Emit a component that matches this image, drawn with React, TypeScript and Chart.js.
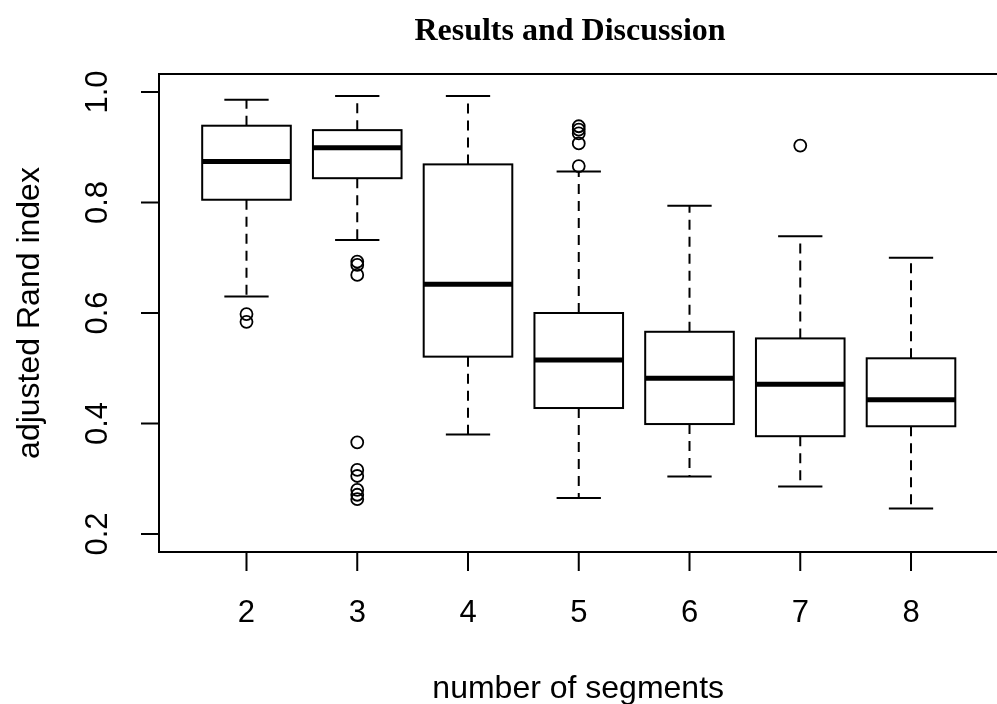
import { useEffect, useRef } from "react";
import { Chart, registerables } from "chart.js";

Chart.register(...registerables);

// ---- data ----
const categories = [2, 3, 4, 5, 6, 7, 8];
const lowerWhisker = [0.630, 0.732, 0.380, 0.265, 0.304, 0.286, 0.246];
const q1 = [0.805, 0.844, 0.521, 0.428, 0.399, 0.377, 0.395];
const medians = [0.874, 0.899, 0.652, 0.515, 0.482, 0.471, 0.443];
const q3 = [0.939, 0.931, 0.869, 0.600, 0.566, 0.554, 0.518];
const upperWhisker = [0.986, 0.993, 0.993, 0.856, 0.794, 0.739, 0.700];
const outliers2 = [0.598, 0.584];
const outliers3 = [0.693, 0.687, 0.669, 0.366, 0.316, 0.305, 0.280, 0.271, 0.263];
const outliers4: number[] = [];
const outliers5 = [0.938, 0.932, 0.925, 0.907, 0.866];
const outliers6: number[] = [];
const outliers7 = [0.903];
const outliers8: number[] = [];
const outliers = [outliers2, outliers3, outliers4, outliers5, outliers6, outliers7, outliers8];
const yTicks = [0.2, 0.4, 0.6, 0.8, 1.0];
const yTickLabels = ["0.2", "0.4", "0.6", "0.8", "1.0"];
const xTickLabels = ["2", "3", "4", "5", "6", "7", "8"];

const titleText = "Results and Discussion";
const xTitle = "number of segments";
const yTitle = "adjusted Rand index";

const SANS = '"Liberation Sans", Arial, sans-serif';
const SERIF = '"Liberation Serif", "Times New Roman", serif';

const boxPlugin = {
  id: "boxPlugin",
  beforeDatasetsDraw(chart: any) {
    const ctx = chart.ctx as CanvasRenderingContext2D;
    const xs = chart.scales.x;
    const ys = chart.scales.y;
    ctx.save();
    ctx.strokeStyle = "#000";
    ctx.lineCap = "butt";
    categories.forEach((c, i) => {
      const xc = xs.getPixelForValue(c);
      const hw = xs.getPixelForValue(c + 0.4) - xc;
      const cw = xs.getPixelForValue(c + 0.2) - xc;
      const yLo = ys.getPixelForValue(lowerWhisker[i]);
      const yQ1 = ys.getPixelForValue(q1[i]);
      const yMed = ys.getPixelForValue(medians[i]);
      const yQ3 = ys.getPixelForValue(q3[i]);
      const yHi = ys.getPixelForValue(upperWhisker[i]);
      // whiskers (dashed)
      ctx.lineWidth = 2;
      ctx.setLineDash([10, 7]);
      ctx.beginPath();
      ctx.moveTo(xc, yQ3);
      ctx.lineTo(xc, yHi);
      ctx.moveTo(xc, yQ1);
      ctx.lineTo(xc, yLo);
      ctx.stroke();
      ctx.setLineDash([]);
      // caps
      ctx.beginPath();
      ctx.moveTo(xc - cw, yHi);
      ctx.lineTo(xc + cw, yHi);
      ctx.moveTo(xc - cw, yLo);
      ctx.lineTo(xc + cw, yLo);
      ctx.stroke();
      // box
      ctx.fillStyle = "#fff";
      ctx.fillRect(xc - hw, yQ3, 2 * hw, yQ1 - yQ3);
      ctx.strokeRect(xc - hw, yQ3, 2 * hw, yQ1 - yQ3);
      // median
      ctx.lineWidth = 5;
      ctx.beginPath();
      ctx.moveTo(xc - hw, yMed);
      ctx.lineTo(xc + hw, yMed);
      ctx.stroke();
    });
    ctx.restore();
  },
  afterDraw(chart: any) {
    const ctx = chart.ctx as CanvasRenderingContext2D;
    const xs = chart.scales.x;
    const ys = chart.scales.y;
    const a = chart.chartArea;
    ctx.save();
    ctx.strokeStyle = "#000";
    ctx.fillStyle = "#000";
    ctx.lineWidth = 2;
    // frame (right side lies beyond the canvas)
    ctx.beginPath();
    ctx.moveTo(chart.width + 2, a.top);
    ctx.lineTo(a.left, a.top);
    ctx.lineTo(a.left, a.bottom);
    ctx.lineTo(chart.width + 2, a.bottom);
    ctx.stroke();
    // y ticks
    ctx.beginPath();
    yTicks.forEach((t) => {
      const y = ys.getPixelForValue(t);
      ctx.moveTo(a.left, y);
      ctx.lineTo(a.left - 18, y);
    });
    // x ticks
    categories.forEach((c) => {
      const x = xs.getPixelForValue(c);
      ctx.moveTo(x, a.bottom);
      ctx.lineTo(x, a.bottom + 19);
    });
    ctx.stroke();
    // tick labels
    ctx.font = `31px ${SANS}`;
    ctx.textAlign = "center";
    ctx.textBaseline = "middle";
    categories.forEach((c, i) => {
      ctx.fillText(xTickLabels[i], xs.getPixelForValue(c), a.bottom + 61);
    });
    yTicks.forEach((t, i) => {
      ctx.save();
      ctx.translate(a.left - 61, ys.getPixelForValue(t));
      ctx.rotate(-Math.PI / 2);
      ctx.fillText(yTickLabels[i], 0, 0);
      ctx.restore();
    });
    // axis titles
    ctx.font = `32px ${SANS}`;
    ctx.fillText(xTitle, (a.left + xs.getPixelForValue(8.78)) / 2, 689);
    ctx.save();
    ctx.translate(30, (a.top + a.bottom) / 2);
    ctx.rotate(-Math.PI / 2);
    ctx.fillText(yTitle, 0, 0);
    ctx.restore();
    // title
    ctx.font = `bold 32px ${SERIF}`;
    ctx.fillText(titleText, 570, 32);
    ctx.restore();
  },
};

export default function App() {
  const ref = useRef<HTMLCanvasElement | null>(null);
  useEffect(() => {
    if (!ref.current) return;
    const points: { x: number; y: number }[] = [];
    categories.forEach((c, i) => outliers[i].forEach((v) => points.push({ x: c, y: v })));
    const chart = new Chart(ref.current, {
      type: "scatter",
      data: {
        datasets: [
          {
            data: points,
            pointRadius: 6,
            pointBorderWidth: 1.8,
            pointBorderColor: "#000",
            pointBackgroundColor: "rgba(0,0,0,0)",
            showLine: false,
          },
        ],
      },
      options: {
        responsive: false,
        animation: false,
        devicePixelRatio: 1,
        layout: { padding: { left: 159, right: 0, top: 74, bottom: 152 } },
        plugins: { legend: { display: false }, tooltip: { enabled: false }, title: { display: false } },
        scales: {
          x: { type: "linear", min: 1.21, max: 8.706, display: false },
          y: { type: "linear", min: 0.1674, max: 1.0326, display: false },
        },
      },
      plugins: [boxPlugin],
    });
    return () => chart.destroy();
  }, []);
  return (
    <div style={{ position: "fixed", left: 0, top: 0, width: 997, height: 704, background: "#fff" }}>
      <canvas ref={ref} width={997} height={704} />
    </div>
  );
}
